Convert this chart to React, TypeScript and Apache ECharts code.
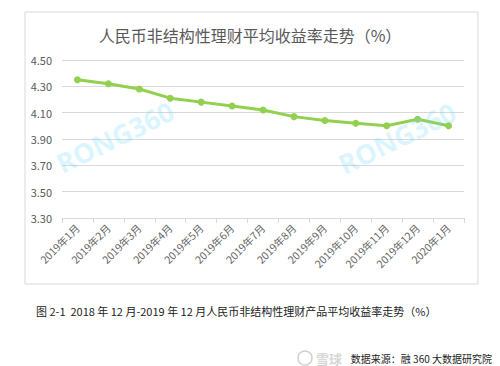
import React, { useEffect, useRef } from "react";
import * as echarts from "echarts";

const categories = [
  "2019年1月", "2019年2月", "2019年3月", "2019年4月", "2019年5月", "2019年6月", "2019年7月",
  "2019年8月", "2019年9月", "2019年10月", "2019年11月", "2019年12月", "2020年1月",
];
const yields = [4.35, 4.32, 4.28, 4.21, 4.18, 4.15, 4.12, 4.07, 4.04, 4.02, 4.0, 4.05, 4.0];
const yMin = 3.3;
const yMax = 4.5;
const yStep = 0.2;

const titleText = "人民币非结构性理财平均收益率走势（%）";
const captionText = "图 2-1  2018 年 12 月-2019 年 12 月人民币非结构性理财产品平均收益率走势（%）";
const sourceText = "数据来源：融 360 大数据研究院";

export default function App() {
  const ref = useRef<HTMLDivElement>(null);
  useEffect(() => {
    if (!ref.current) return;
    const chart = echarts.init(ref.current, null, { renderer: "svg" });
    const font = "'Noto Sans CJK SC', 'Noto Sans', sans-serif";
    chart.setOption({
      animation: false,
      backgroundColor: "#ffffff",
      textStyle: { fontFamily: font },
      title: {
        text: titleText,
        left: 245,
        top: 22,
        textAlign: "center",
        textStyle: { fontSize: 16, fontWeight: "normal", color: "#595959", fontFamily: font },
      },
      grid: { left: 62, right: 36, top: 60, bottom: 148, containLabel: false },
      xAxis: {
        type: "category",
        data: categories,
        boundaryGap: true,
        axisLine: { lineStyle: { color: "#d9d9d9", width: 1 } },
        axisTick: { show: true, length: 5, lineStyle: { color: "#d9d9d9" } },
        axisLabel: { rotate: 45, fontSize: 10.5, color: "#666666", margin: 8, interval: 0, fontFamily: font },
      },
      yAxis: {
        type: "value",
        min: yMin,
        max: yMax,
        interval: yStep,
        axisLine: { show: false },
        axisTick: { show: false },
        splitLine: { lineStyle: { color: "#d9d9d9", width: 1 } },
        axisLabel: {
          fontSize: 11,
          color: "#595959",
          margin: 10,
          fontFamily: font,
          formatter: (v: number) => v.toFixed(2),
        },
      },
      series: [
        {
          type: "line",
          data: yields,
          symbol: "circle",
          symbolSize: 7,
          lineStyle: { color: "#92d050", width: 3 },
          itemStyle: { color: "#92d050" },
          z: 5,
        },
      ],
      graphic: [
        {
          type: "rect",
          shape: { x: 25, y: 12, width: 453, height: 272 },
          style: { fill: "none", stroke: "#d9d9d9", lineWidth: 1 },
          silent: true,
          z: -1,
        },
        {
          type: "text",
          x: 115,
          y: 137,
          rotation: (26 * Math.PI) / 180,
          style: {
            text: "RONG360",
            font: "bold 27px 'Open Sans', sans-serif",
            fill: "rgba(110,215,250,0.25)",
            align: "center",
            verticalAlign: "middle",
          },
          silent: true,
          z: 10,
        },
        {
          type: "text",
          x: 397,
          y: 138,
          rotation: (26 * Math.PI) / 180,
          style: {
            text: "RONG360",
            font: "bold 27px 'Open Sans', sans-serif",
            fill: "rgba(110,215,250,0.25)",
            align: "center",
            verticalAlign: "middle",
          },
          silent: true,
          z: 10,
        },
        {
          type: "text",
          x: 36,
          y: 311,
          style: {
            text: captionText,
            font: "11px " + font,
            fill: "#222222",
            verticalAlign: "middle",
          },
        },
        {
          type: "circle",
          shape: { cx: 305, cy: 358, r: 7 },
          style: { fill: "none", stroke: "#d0d0d0", lineWidth: 1.5 },
        },
        {
          type: "text",
          x: 316,
          y: 358,
          style: {
            text: "雪球",
            font: "bold 13px " + font,
            fill: "#d6d6d6",
            verticalAlign: "middle",
          },
        },
        {
          type: "text",
          x: 492,
          y: 358,
          style: {
            text: sourceText,
            font: "10px " + font,
            fill: "#222222",
            align: "right",
            verticalAlign: "middle",
          },
        },
      ],
    });
    return () => chart.dispose();
  }, []);
  return (
    <div
      ref={ref}
      style={{ position: "fixed", left: 0, top: 0, width: 500, height: 366, background: "#fff" }}
    />
  );
}
